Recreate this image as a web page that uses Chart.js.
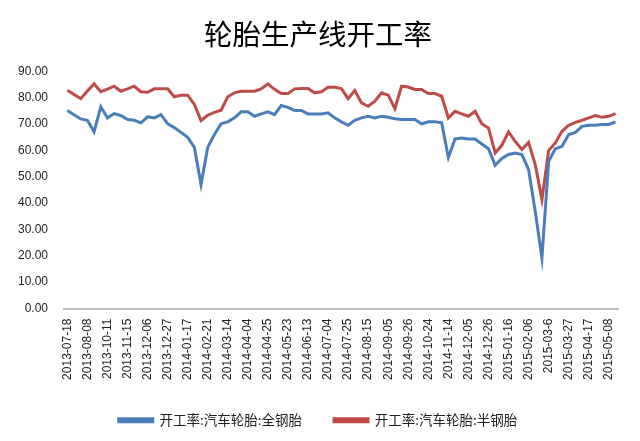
<!DOCTYPE html>
<html>
<head>
<meta charset="utf-8">
<script src="https://cdn.jsdelivr.net/npm/chart.js@4.4.0/dist/chart.umd.min.js"></script>
<style>
  body { margin: 0; background: #fff; }
  #box { width: 640px; height: 441px; }
</style>
</head>
<body>
<div id="box"><canvas id="chart"></canvas></div>
<script>
// dates (one point per week, only every 3rd one is shown on the axis)
const dates = [
  '2013-07-18','2013-07-25','2013-08-01','2013-08-08','2013-08-15','2013-10-04',
  '2013-10-11','2013-10-25','2013-11-01','2013-11-15','2013-11-22','2013-11-29',
  '2013-12-06','2013-12-13','2013-12-20','2013-12-27','2014-01-03','2014-01-10',
  '2014-01-17','2014-01-24','2014-02-14','2014-02-21','2014-02-28','2014-03-07',
  '2014-03-14','2014-03-21','2014-03-28','2014-04-04','2014-04-11','2014-04-18',
  '2014-04-25','2014-05-09','2014-05-16','2014-05-23','2014-05-30','2014-06-06',
  '2014-06-13','2014-06-20','2014-06-27','2014-07-04','2014-07-11','2014-07-18',
  '2014-07-25','2014-08-01','2014-08-08','2014-08-15','2014-08-22','2014-08-29',
  '2014-09-05','2014-09-12','2014-09-19','2014-09-26','2014-10-10','2014-10-17',
  '2014-10-24','2014-10-31','2014-11-07','2014-11-14','2014-11-21','2014-11-28',
  '2014-12-05','2014-12-12','2014-12-19','2014-12-26','2015-01-02','2015-01-09',
  '2015-01-16','2015-01-23','2015-01-30','2015-02-06','2015-02-13','2015-02-27',
  '2015-03-6','2015-03-13','2015-03-20','2015-03-27','2015-04-03','2015-04-10',
  '2015-04-17','2015-04-24','2015-04-30','2015-05-08','2015-05-15'
];

// 开工率:汽车轮胎:全钢胎
const quanGang = [
  75.1, 73.5, 71.9, 71.4, 67.0, 76.5, 72.3, 73.9, 73.2, 71.7, 71.4, 70.4,
  72.7, 72.3, 73.5, 70.1, 68.6, 66.8, 64.9, 61.1, 47.0, 61.1, 66.0, 70.1,
  70.8, 72.3, 74.6, 74.6, 72.9, 73.8, 74.6, 73.5, 77.0, 76.3, 75.1, 75.1,
  73.8, 73.8, 73.8, 74.2, 72.3, 70.8, 69.5, 71.4, 72.3, 72.9, 72.3, 72.9,
  72.5, 72.0, 71.7, 71.7, 71.7, 70.0, 70.8, 70.8, 70.4, 57.3, 64.3, 64.7,
  64.3, 64.3, 62.4, 60.6, 54.3, 56.9, 58.4, 59.0, 58.4, 52.7, 36.8, 19.1,
  55.8, 60.6, 61.5, 66.0, 66.8, 69.1, 69.5, 69.5, 69.8, 69.8, 70.8
];

// 开工率:汽车轮胎:半钢胎
const banGang = [
  82.8, 81.2, 79.6, 82.5, 85.2, 82.2, 83.2, 84.3, 82.4, 83.3, 84.3, 82.2,
  82.0, 83.3, 83.3, 83.3, 80.3, 80.9, 80.9, 77.4, 71.3, 73.3, 74.4, 75.2,
  80.3, 81.8, 82.4, 82.4, 82.4, 83.3, 85.2, 83.1, 81.5, 81.5, 83.3, 83.4,
  83.4, 81.8, 82.2, 83.9, 83.9, 83.4, 79.6, 82.7, 78.0, 76.7, 78.6, 81.8,
  80.9, 75.8, 84.3, 84.0, 83.1, 83.1, 81.5, 81.5, 80.5, 72.3, 74.8, 73.8,
  72.9, 74.8, 70.1, 68.5, 59.0, 61.9, 67.0, 63.4, 60.3, 63.0, 54.6, 41.3,
  59.9, 62.8, 67.2, 69.5, 70.6, 71.4, 72.3, 73.2, 72.5, 72.9, 73.9
];

const blue = '#4a7ebb';
const red = '#be4b48';
const tickFont = { family: 'Liberation Sans', size: 12 };

new Chart(document.querySelector('#chart'), {
  type: 'line',
  data: {
    labels: dates,
    datasets: [{
      label: '开工率:汽车轮胎:全钢胎',
      data: quanGang,
      borderColor: blue,
      backgroundColor: blue,
      borderWidth: 3,
      pointRadius: 0,
      tension: 0
    }, {
      label: '开工率:汽车轮胎:半钢胎',
      data: banGang,
      borderColor: red,
      backgroundColor: red,
      borderWidth: 3,
      pointRadius: 0,
      tension: 0
    }]
  },
  options: {
    responsive: true,
    maintainAspectRatio: false,
    animation: false,
    // a bit of left padding so title and legend sit centred like the original
    layout: { padding: { left: 16, right: 20, top: 0, bottom: 4 } },
    plugins: {
      title: {
        display: true,
        text: '轮胎生产线开工率',
        color: '#000',
        font: { family: 'Noto Sans CJK SC', size: 28.5, weight: 'normal' },
        padding: { top: 17, bottom: 20 }
      },
      legend: {
        position: 'bottom',
        labels: {
          boxWidth: 34,
          boxHeight: 3,
          padding: 32,
          color: '#222',
          font: { family: 'Noto Sans CJK SC', size: 13.5 }
        }
      },
      tooltip: { enabled: false }
    },
    scales: {
      x: {
        offset: true,
        grid: { display: false, drawTicks: false },
        border: { display: true, color: '#bfbfbf', width: 2 },
        ticks: {
          autoSkip: false,
          maxRotation: 90,
          minRotation: 90,
          padding: 10,
          color: '#222',
          font: tickFont,
          callback: function (v, i) { return i % 3 === 0 ? this.getLabelForValue(v) : ''; }
        },
        afterFit: s => { s.height = 73; }
      },
      y: {
        min: 0,
        max: 90,
        grid: { display: false, drawTicks: false },
        border: { display: false },
        ticks: {
          stepSize: 10,
          padding: 16,
          color: '#222',
          font: tickFont,
          callback: v => v.toFixed(2)
        },
        afterFit: s => { s.width = 48; }
      }
    }
  }
});
</script>
</body>
</html>
